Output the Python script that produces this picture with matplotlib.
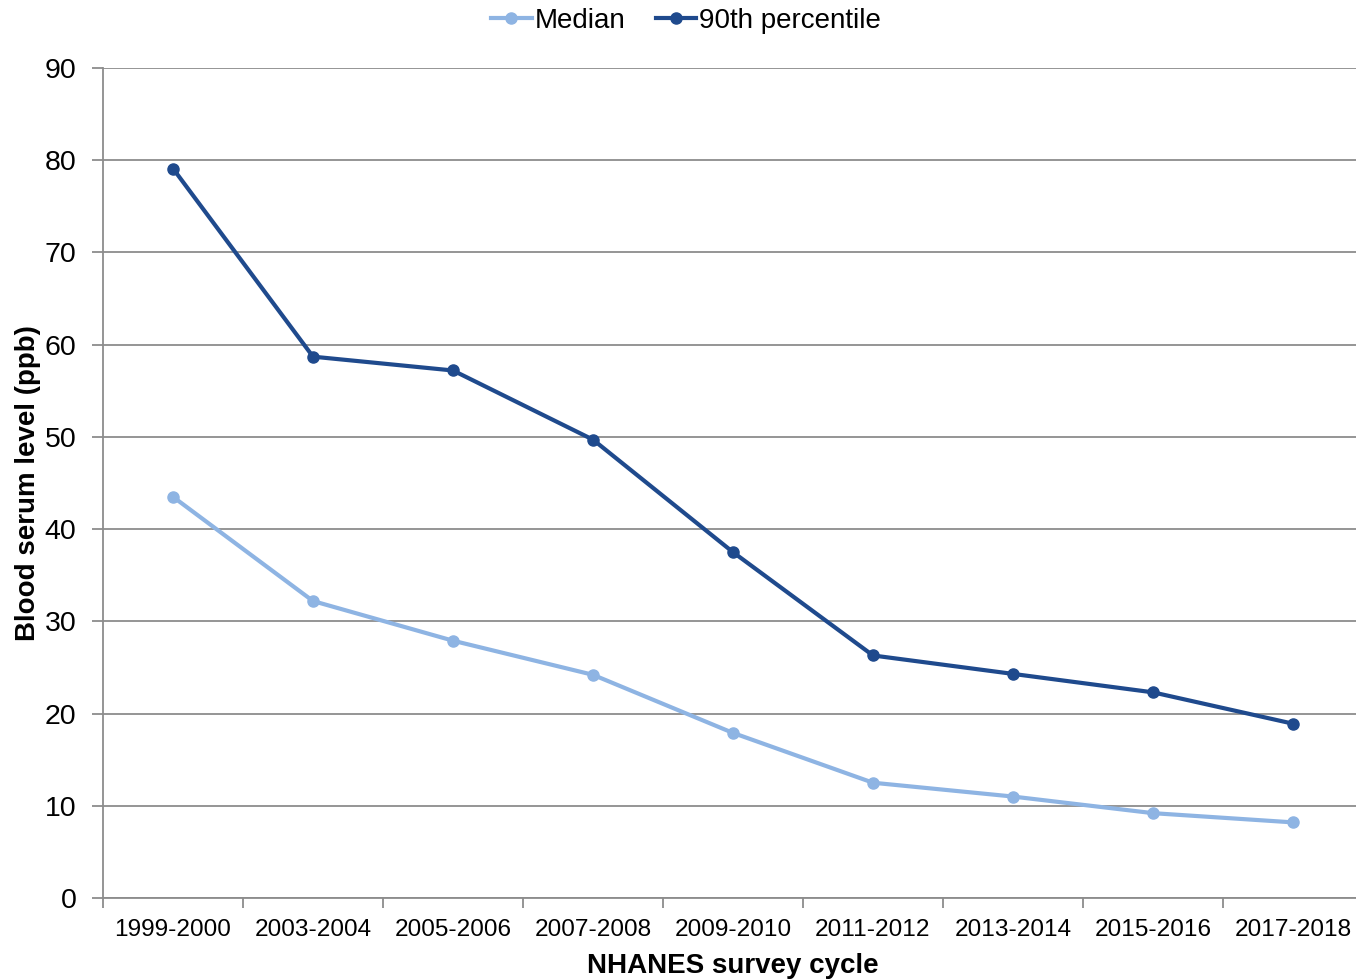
import matplotlib.pyplot as plt

plt.rcParams['font.family'] = ['Liberation Sans', 'DejaVu Sans']

cycles = ["1999-2000", "2003-2004", "2005-2006", "2007-2008", "2009-2010",
          "2011-2012", "2013-2014", "2015-2016", "2017-2018"]
median = [43.5, 32.2, 27.9, 24.2, 17.9, 12.5, 11.0, 9.2, 8.2]
p90 = [79.1, 58.7, 57.2, 49.7, 37.5, 26.3, 24.3, 22.3, 18.9]

LIGHT = "#8eb4e3"
DARK = "#1f4a8d"
GRID = "#8c8c8c"


def plot_serum():
    fig = plt.figure(figsize=(13.56, 9.80), dpi=100)
    ax = fig.add_axes([103 / 1356, 1 - 898 / 980, 1260 / 1356, 830 / 980])
    x = list(range(len(cycles)))

    ax.plot(x, median, color=LIGHT, lw=3, marker="o", ms=8, label="Median", zorder=3)
    ax.plot(x, p90, color=DARK, lw=3, marker="o", ms=8, label="90th percentile", zorder=3)

    ax.set_xlim(-0.5, len(cycles) - 0.5)
    ax.set_ylim(0, 90)
    ax.set_yticks(range(0, 91, 10))
    ax.grid(axis="y", color=GRID, lw=1.3)
    ax.set_axisbelow(True)

    ax.set_xticks(x)
    ax.set_xticklabels(cycles, fontsize=17.6)
    ax.set_xticks([i - 0.5 for i in x], minor=True)
    ax.tick_params(axis="x", which="major", length=0, pad=15)
    ax.tick_params(axis="x", which="minor", length=7, color=GRID, width=1.3)
    ax.tick_params(axis="y", length=8, color=GRID, width=1.3, labelsize=20.5, pad=11)

    for side in ("top", "right"):
        ax.spines[side].set_visible(False)
    for side in ("left", "bottom"):
        ax.spines[side].set_color(GRID)
        ax.spines[side].set_linewidth(1.3)

    ax.set_xlabel("NHANES survey cycle", fontsize=20, fontweight="bold", labelpad=9)
    ax.set_ylabel("Blood serum level (ppb)", fontsize=20, fontweight="bold", labelpad=3)

    fig.legend(loc="center", bbox_to_anchor=(686 / 1356, 1 - 21 / 980), ncol=2,
               frameon=False, fontsize=20, handlelength=1.45, handletextpad=0.1,
               columnspacing=1.1, borderaxespad=0, borderpad=0)

    plt.savefig("out.png", dpi=100)


if __name__ == "__main__":
    plot_serum()
